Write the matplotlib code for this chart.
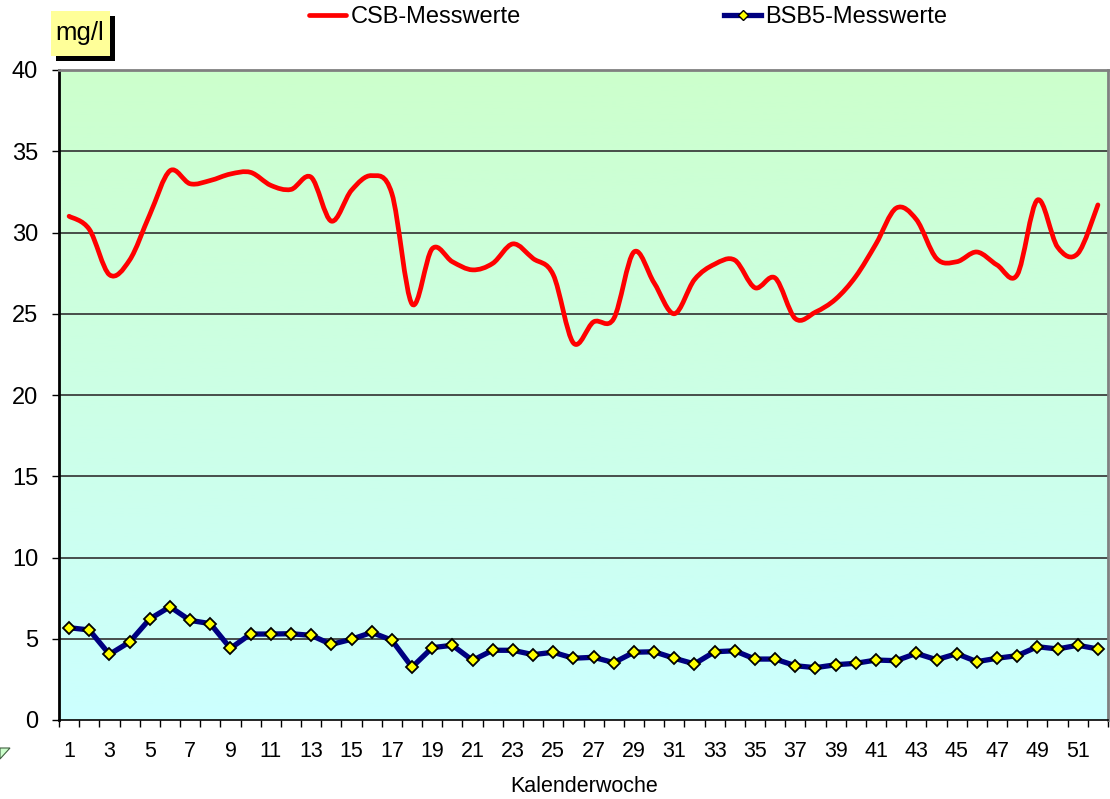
import numpy as np
import matplotlib
matplotlib.use('Agg')
import matplotlib.pyplot as plt
import matplotlib.patches as mpatches
from matplotlib.path import Path
from matplotlib.lines import Line2D

plt.rcParams['font.family'] = ['Liberation Sans', 'DejaVu Sans']

weeks = np.arange(1, 53)
csb = [31.0, 30.2, 27.4, 28.3, 31.1, 33.8, 33.0, 33.2, 33.6, 33.7,
       32.9, 32.65, 33.4, 30.7, 32.6, 33.5, 32.4, 25.6, 29.0, 28.2,
       27.7, 28.1, 29.3, 28.4, 27.4, 23.2, 24.5, 24.7, 28.8, 26.9,
       25.0, 27.1, 28.05, 28.3, 26.6, 27.2, 24.7, 25.1, 25.9, 27.3,
       29.3, 31.5, 30.8, 28.4, 28.2, 28.8, 28.0, 27.4, 32.0, 29.1,
       28.7, 31.7]
bsb5 = [5.68, 5.54, 4.04, 4.80, 6.22, 6.97, 6.13, 5.93, 4.41, 5.29,
        5.29, 5.31, 5.21, 4.65, 4.97, 5.39, 4.91, 3.25, 4.45, 4.60,
        3.67, 4.29, 4.29, 4.02, 4.17, 3.80, 3.86, 3.53, 4.17, 4.20,
        3.80, 3.45, 4.20, 4.26, 3.75, 3.75, 3.34, 3.22, 3.40, 3.49,
        3.69, 3.65, 4.10, 3.71, 4.08, 3.59, 3.80, 3.96, 4.51, 4.37,
        4.60, 4.37]
y_ticks = [0, 5, 10, 15, 20, 25, 30, 35, 40]
x_labels = list(range(1, 53, 2))

W, H = 1110, 799


def px(x, y):
    return x / W, 1 - y / H


def smooth_path(x, y):
    # Excel-style smoothed line: cubic Bezier through each point
    pts = np.column_stack([x, y]).astype(float)
    n = len(pts)
    verts = [pts[0]]
    codes = [Path.MOVETO]
    for i in range(n - 1):
        p0 = pts[i - 1] if i > 0 else pts[i]
        p1 = pts[i]
        p2 = pts[i + 1]
        p3 = pts[i + 2] if i + 2 < n else pts[i + 1]
        c1 = p1 + (p2 - p0) / 6.0
        c2 = p2 - (p3 - p1) / 6.0
        verts += [c1, c2, p2]
        codes += [Path.CURVE4] * 3
    return Path(verts, codes)


fig = plt.figure(figsize=(W / 100, H / 100), dpi=100)
l, b = px(59, 720)
r, t = px(1108, 70)
ax = fig.add_axes([l, b, r - l, t - b])

# gradient background
grad = np.linspace(0, 1, 256)[:, None]
top = np.array([204, 255, 204]) / 255
bot = np.array([204, 255, 255]) / 255
img = top[None, None, :] * (1 - grad[:, :, None]) + bot[None, None, :] * grad[:, :, None]
ax.imshow(img, extent=[0.5, 52.5, 0, 40], aspect='auto', origin='upper', zorder=0)

for v in y_ticks[1:-1]:
    ax.axhline(v, color='#303030', lw=1.2, zorder=1)

patch = mpatches.PathPatch(smooth_path(weeks, csb), facecolor='none',
                           edgecolor='#FF0000', lw=3.4, capstyle='round',
                           joinstyle='round', zorder=3)
ax.add_patch(patch)
ax.plot(weeks, bsb5, color='#000080', lw=3.8, marker='D', markersize=6,
        markerfacecolor='#FFFF00', markeredgecolor='black', markeredgewidth=1.3,
        zorder=4)

ax.set_xlim(0.5, 52.5)
ax.set_ylim(0, 40)

ax.set_yticks(y_ticks)
ax.tick_params(axis='y', length=5, width=1, direction='out', labelsize=17, pad=10)
ax.set_xticks(np.arange(0.5, 53, 1))
ax.set_xticklabels([])
ax.tick_params(axis='x', which='major', length=5, width=1, direction='out')
ax.set_xticks(x_labels, minor=True)
ax.set_xticklabels([str(v) for v in x_labels], minor=True)
ax.tick_params(axis='x', which='minor', length=0, labelsize=15.5, pad=15)

ax.spines['left'].set_linewidth(2)
ax.spines['bottom'].set_linewidth(1.2)
ax.spines['top'].set_color('#808080')
ax.spines['top'].set_linewidth(2)
ax.spines['right'].set_color('#808080')
ax.spines['right'].set_linewidth(2)

fig.text(*px(584, 786), 'Kalenderwoche', ha='center', va='center', fontsize=15.5)

# mg/l label with shadow
shadow = mpatches.Rectangle(px(56, 61), 59 / W, 45 / H, transform=fig.transFigure,
                            facecolor='black', edgecolor='none')
box = mpatches.Rectangle(px(51, 56), 59 / W, 45 / H, transform=fig.transFigure,
                         facecolor='#FFFF99', edgecolor='none')
fig.patches.extend([shadow, box])
fig.text(*px(80, 33), 'mg/l', ha='center', va='center', fontsize=18.5)

# small marker left at bottom corner
tri = mpatches.Polygon([px(0, 748), px(10, 748), px(0, 759)], closed=True,
                       transform=fig.transFigure, facecolor='#CCFFCC',
                       edgecolor='#406040', lw=0.8)
fig.patches.append(tri)

handles = [
    Line2D([], [], color='#FF0000', lw=3.4, solid_capstyle='round'),
    Line2D([], [], color='#000080', lw=3.8, marker='D', markersize=5,
           markerfacecolor='#FFFF00', markeredgecolor='black', markeredgewidth=1),
]
fig.legend(handles, ['CSB-Messwerte', 'BSB5-Messwerte'], loc='center',
           bbox_to_anchor=px(628, 17), ncol=2, frameon=False, fontsize=17,
           handlelength=1.6, handletextpad=0.17, columnspacing=8.6)

fig.savefig('out.png', dpi=100)
